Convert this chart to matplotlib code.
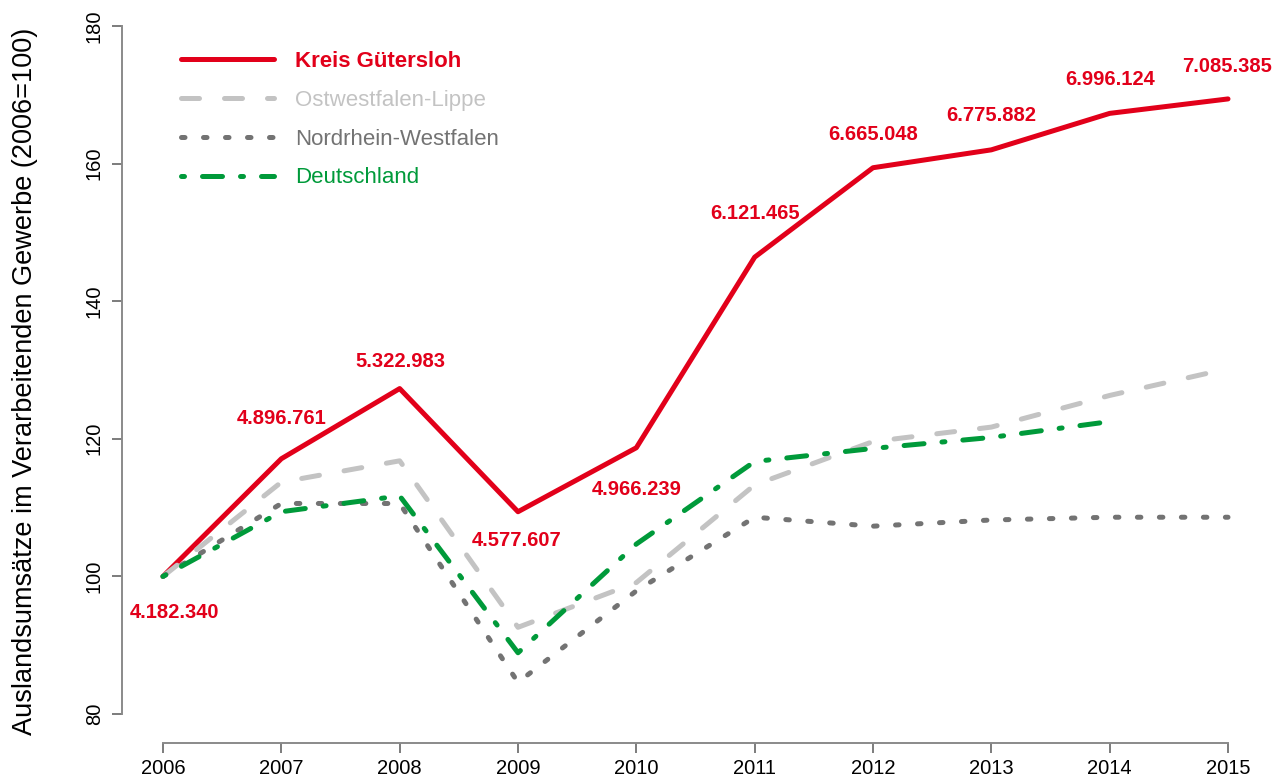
import matplotlib
matplotlib.use("Agg")
import matplotlib.pyplot as plt
from matplotlib.lines import Line2D
import numpy as np

plt.rcParams['font.family'] = ['Liberation Sans', 'DejaVu Sans']
plt.rcParams['lines.scale_dashes'] = False

years = [2006, 2007, 2008, 2009, 2010, 2011, 2012, 2013, 2014, 2015]
guetersloh = [100, 117.1, 127.3, 109.4, 118.7, 146.4, 159.4, 162.0, 167.3, 169.4]
owl = [100, 113.7, 116.8, 92.6, 99.1, 113.3, 119.6, 121.7, 126.3, 130.2]
nrw = [100, 110.6, 110.6, 84.6, 97.9, 108.6, 107.3, 108.2, 108.6, 108.6]
deutschland = [100, 109.4, 111.7, 88.9, 104.7, 116.7, 118.6, 120.2, 122.5, np.nan]
gt_labels = ["4.182.340", "4.896.761", "5.322.983", "4.577.607", "4.966.239",
             "6.121.465", "6.665.048", "6.775.882", "6.996.124", "7.085.385"]
series_names = ["Kreis Gütersloh", "Ostwestfalen-Lippe", "Nordrhein-Westfalen", "Deutschland"]

# label offsets in pixels (dx, dy) relative to point
label_offsets = [(12, -36), (0, 40), (1, 27), (-1, -29), (0, -42),
                 (0, 44), (0, 33), (0, 34), (0, 34), (-1, 32)]

RED = '#E2001A'
LGREY = '#C3C3C3'
DGREY = '#737373'
GREEN = '#009A3A'
AXC = '#8A8A8A'

W, H = 1272, 781
fig = plt.figure(figsize=(W / 100, H / 100), dpi=100)
ax = fig.add_axes([163 / W, 1 - 714 / H, (1228 - 163) / W, (714 - 26) / H])
ax.set_xlim(2006, 2015)
ax.set_ylim(80, 180)

px = 0.72  # points per pixel
lw = 5 * px

ls_solid = '-'
ls_owl = (0, (18 * px, 25 * px))
ls_nrw = (0, (3.5 * px, 18.5 * px))
ls_de = (0, (3 * px, 18 * px, 20 * px, 18 * px))

l_gt, = ax.plot(years, guetersloh, color=RED, lw=lw, ls=ls_solid, solid_capstyle='round',
                solid_joinstyle='round', clip_on=False, zorder=3)
l_owl, = ax.plot(years, owl, color=LGREY, lw=lw, ls=ls_owl, dash_capstyle='round',
                 dash_joinstyle='round', clip_on=False, zorder=4)
l_nrw, = ax.plot(years, nrw, color=DGREY, lw=lw, ls=ls_nrw, dash_capstyle='round',
                 dash_joinstyle='round', clip_on=False, zorder=5)
l_de, = ax.plot(years, deutschland, color=GREEN, lw=lw, ls=ls_de, dash_capstyle='round',
                dash_joinstyle='round', clip_on=False, zorder=6)

for x, y, t, (dx, dy) in zip(years, guetersloh, gt_labels, label_offsets):
    ax.annotate(t, (x, y), xytext=(dx * px, dy * px), textcoords='offset points',
                ha='center', va='center', color=RED, fontsize=14.5,
                fontweight='bold', annotation_clip=False, zorder=7)

for s in ['top', 'right']:
    ax.spines[s].set_visible(False)
ax.spines['left'].set_position(('outward', 41 * px))
ax.spines['bottom'].set_position(('outward', 29 * px))
ax.spines['left'].set_bounds(80, 180)
ax.spines['bottom'].set_bounds(2006, 2015)
for s in ['left', 'bottom']:
    ax.spines[s].set_color(AXC)
    ax.spines[s].set_linewidth(1.4)

ax.set_xticks(years)
ax.set_xticklabels([str(y) for y in years])
ax.set_yticks([80, 100, 120, 140, 160, 180])
ax.tick_params(axis='both', colors='#666666', labelcolor='black', length=10 * px,
               width=1.2, labelsize=14.5)
ax.tick_params(axis='x', pad=4)
ax.tick_params(axis='y', pad=6)
for lab in ax.get_yticklabels():
    lab.set_rotation(90)
    lab.set_va('center')

fig.text(25 / W, 1 - 381 / H, "Auslandsumsätze im Verarbeitenden Gewerbe (2006=100)",
         rotation=90, ha='center', va='center', fontsize=19.5, color='black')

handles = []
for c, ls in zip([RED, LGREY, DGREY, GREEN], [ls_solid, ls_owl, ls_nrw, ls_de]):
    handles.append(Line2D([], [], color=c, lw=lw, ls=ls, solid_capstyle='round',
                          dash_capstyle='round'))

leg = fig.legend(handles, series_names, loc='upper left',
                 bbox_to_anchor=(181 / W, 1 - 51 / H), frameon=False,
                 fontsize=16, handlelength=4.2, handletextpad=0.95,
                 labelspacing=0.8, borderpad=0, borderaxespad=0)
for txt, c in zip(leg.get_texts(), [RED, LGREY, DGREY, GREEN]):
    txt.set_color(c)
leg.get_texts()[0].set_fontweight('bold')

fig.savefig("out.png", dpi=100)
